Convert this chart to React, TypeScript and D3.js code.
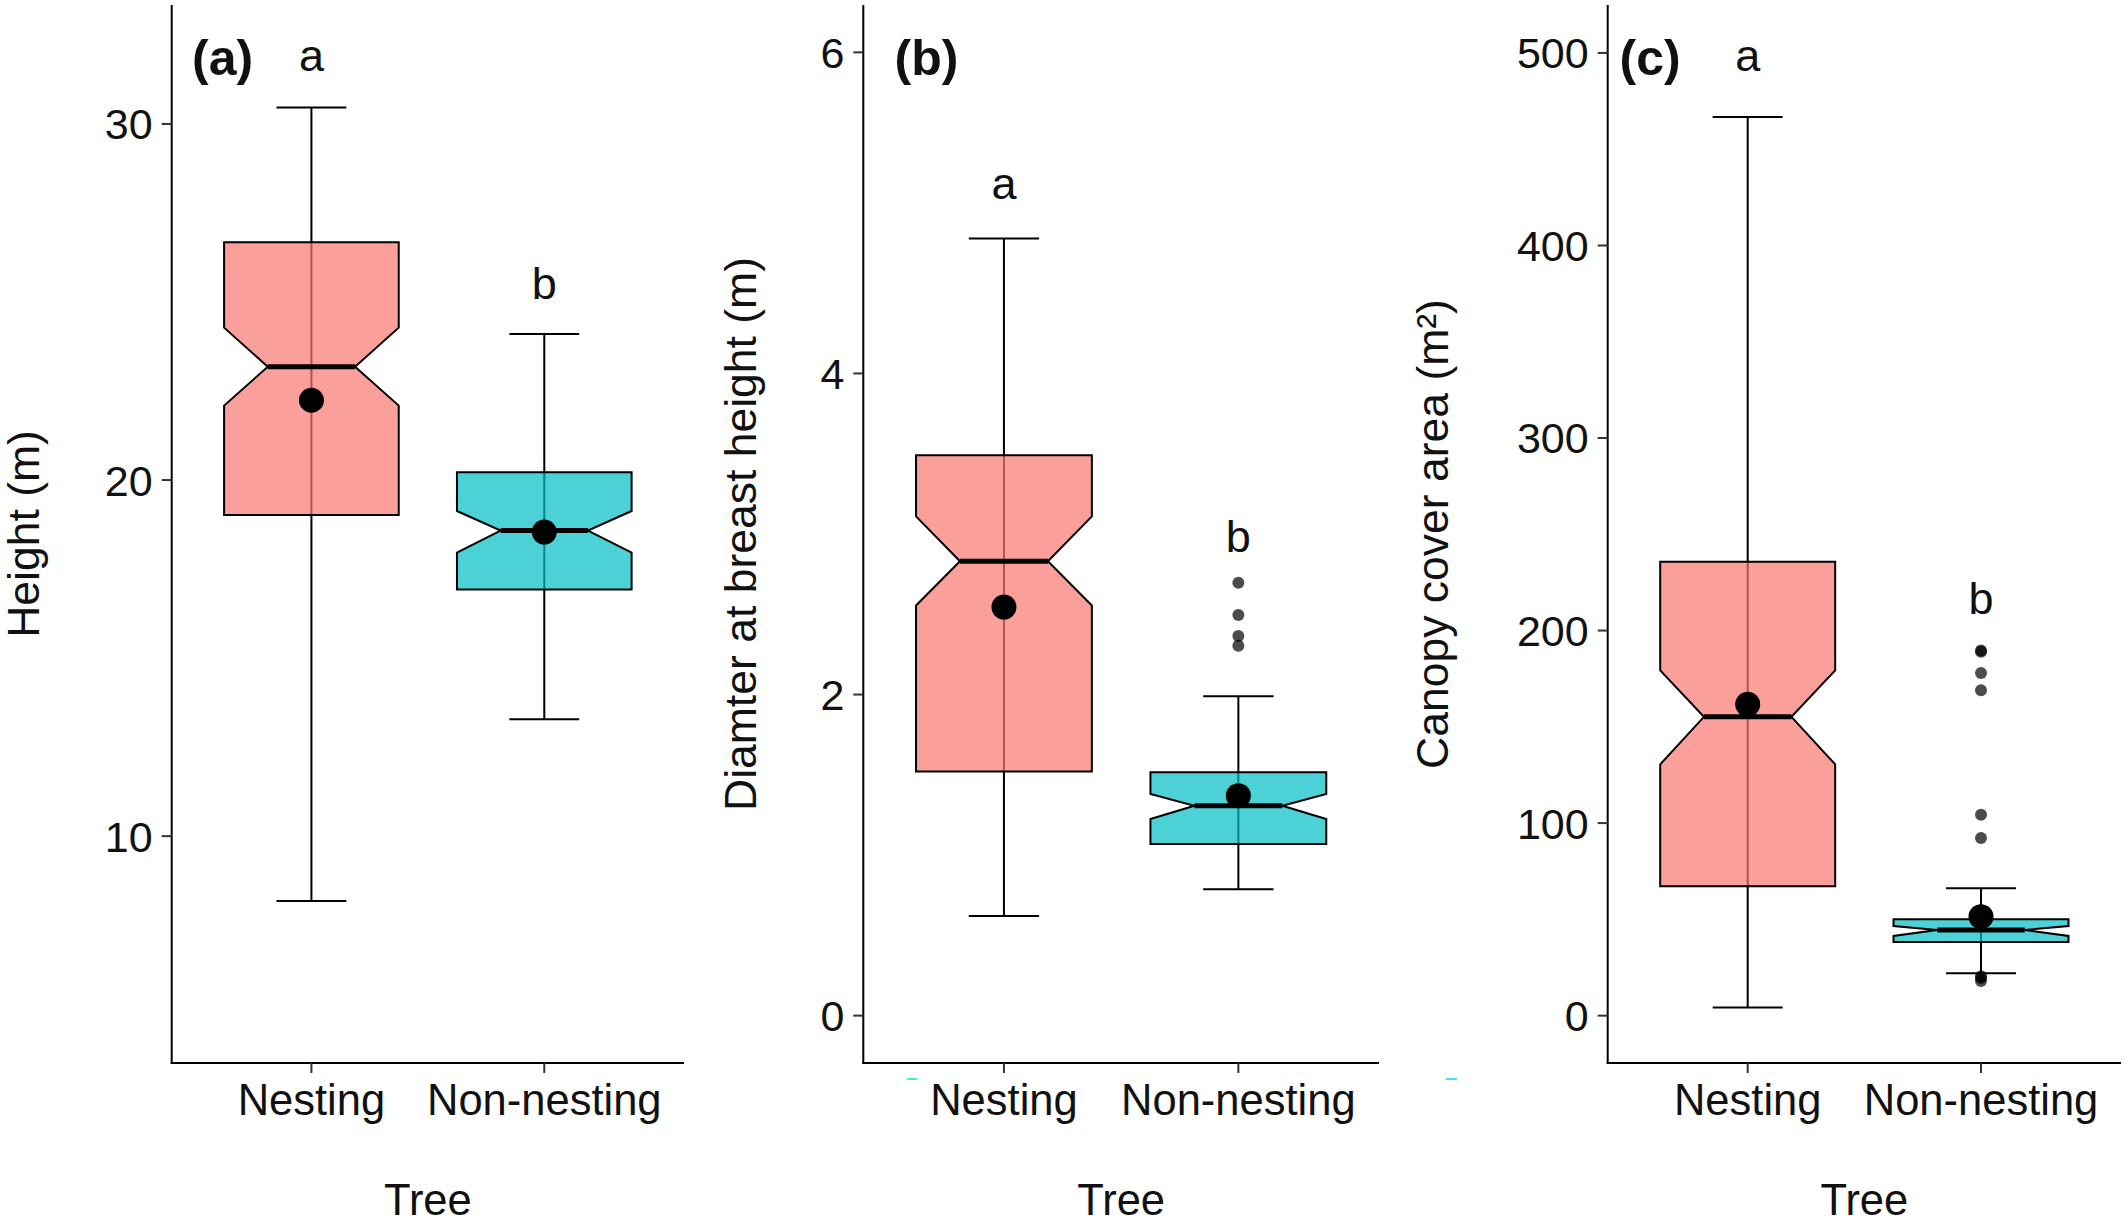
import * as d3 from "d3";

const W = 2128;
const H = 1223;
const FONT = "'Liberation Sans', Arial, Helvetica, sans-serif";

const groups = ["Nesting", "Non-nesting"];
const groupFills = ["#F8766D", "#00BFC4"];

type BoxStat = {
  lo: number; q1: number; notchLo: number; median: number;
  notchHi: number; q3: number; hi: number; mean: number;
  outliers: number[]; letter: string; letterY: number;
};

// (a) tree height, m
const heightStats: BoxStat[] = [
  { lo: 8.18, q1: 19.02, notchLo: 22.09, median: 23.18, notchHi: 24.28, q3: 26.68, hi: 30.46, mean: 22.24, outliers: [], letter: "a", letterY: 32 },
  { lo: 13.28, q1: 16.93, notchLo: 17.96, median: 18.58, notchHi: 19.13, q3: 20.22, hi: 24.1, mean: 18.54, outliers: [], letter: "b", letterY: 25.6 },
];

// (b) diameter at breast height, m
const dbhStats: BoxStat[] = [
  { lo: 0.62, q1: 1.52, notchLo: 2.555, median: 2.83, notchHi: 3.11, q3: 3.49, hi: 4.84, mean: 2.545, outliers: [], letter: "a", letterY: 5.2 },
  { lo: 0.787, q1: 1.069, notchLo: 1.225, median: 1.307, notchHi: 1.38, q3: 1.516, hi: 1.99, mean: 1.37, outliers: [2.696, 2.495, 2.364, 2.304], letter: "b", letterY: 3.0 },
];

// (c) canopy cover area, m²
const canopyStats: BoxStat[] = [
  { lo: 4.2, q1: 67.2, notchLo: 130.5, median: 155.2, notchHi: 179.3, q3: 235.8, hi: 466.7, mean: 161.7, outliers: [], letter: "a", letterY: 500 },
  { lo: 22.0, q1: 38.2, notchLo: 41.4, median: 44.5, notchHi: 46.5, q3: 50.0, hi: 66.1, mean: 51.4, outliers: [189.0, 189.6, 178.0, 169.0, 104.3, 92.2, 18.0, 19.5, 20.5], letter: "b", letterY: 218 },
];

const heightTicks = [10, 20, 30];
const dbhTicks = [0, 2, 4, 6];
const canopyTicks = [0, 100, 200, 300, 400, 500];

type PanelDef = {
  tag: string; tagX: number; title: string; titleX: number;
  left: number; right: number; domain: [number, number];
  ticks: number[]; stats: BoxStat[];
};

const panels: PanelDef[] = [
  { tag: "(a)", tagX: 192, title: "Height (m)", titleX: 39, left: 171.7, right: 684, domain: [3.63, 33.34], ticks: heightTicks, stats: heightStats },
  { tag: "(b)", tagX: 894.5, title: "Diamter at breast height (m)", titleX: 756, left: 863.3, right: 1379, domain: [-0.295, 6.295], ticks: dbhTicks, stats: dbhStats },
  { tag: "(c)", tagX: 1619.5, title: "Canopy cover area (m\u00B2)", titleX: 1448, left: 1607.7, right: 2121, domain: [-24.6, 524.9], ticks: canopyTicks, stats: canopyStats },
];

const TOP = 5;
const BOTTOM = 1063;

function Panel({ p }: { p: PanelDef }) {
  const y = d3.scaleLinear().domain(p.domain).range([BOTTOM, TOP]);
  const x = d3.scalePoint<string>().domain(groups).range([p.left, p.right]).padding(0.6);
  const step = x.step();
  const boxW = 0.75 * step;
  const capW = 0.3 * step;
  const indent = boxW * 0.25;
  const midY = (TOP + BOTTOM) / 2;

  return (
    <g>
      {/* axes */}
      <line x1={p.left} x2={p.left} y1={TOP} y2={BOTTOM + 1} stroke="#000" strokeWidth={2} />
      <line x1={p.left - 1} x2={p.right} y1={BOTTOM} y2={BOTTOM} stroke="#000" strokeWidth={2} />
      {p.ticks.map((t) => (
        <g key={t}>
          <line x1={p.left - 10} x2={p.left} y1={y(t)} y2={y(t)} stroke="#333" strokeWidth={2} />
          <text x={p.left - 19} y={y(t)} dy="0.36em" textAnchor="end" fontSize={43} fill="#111">{t}</text>
        </g>
      ))}
      {groups.map((g) => (
        <g key={g}>
          <line x1={x(g)} x2={x(g)} y1={BOTTOM} y2={BOTTOM + 10} stroke="#333" strokeWidth={2} />
          <text x={x(g)} y={1115} textAnchor="middle" fontSize={43.5} fill="#111">{g}</text>
        </g>
      ))}
      <text x={(p.left + p.right) / 2} y={1215} textAnchor="middle" fontSize={43.5} fill="#111">Tree</text>
      <text transform={`translate(${p.titleX},${midY}) rotate(-90)`} textAnchor="middle" fontSize={44.5} fill="#111">{p.title}</text>
      <text x={p.tagX} y={75} fontSize={50} fontWeight="bold" fill="#111">{p.tag}</text>

      {/* boxes */}
      {p.stats.map((s, i) => {
        const cx = x(groups[i]) as number;
        const x0 = cx - boxW / 2;
        const x1 = cx + boxW / 2;
        const pts: [number, number][] = [
          [x0, y(s.q3)], [x0, y(s.notchHi)], [x0 + indent, y(s.median)], [x0, y(s.notchLo)], [x0, y(s.q1)],
          [x1, y(s.q1)], [x1, y(s.notchLo)], [x1 - indent, y(s.median)], [x1, y(s.notchHi)], [x1, y(s.q3)],
        ];
        const path = d3.line()(pts) + "Z";
        return (
          <g key={i}>
            <line x1={cx} x2={cx} y1={y(s.lo)} y2={y(s.hi)} stroke="#000" strokeWidth={2} />
            <line x1={cx - capW / 2} x2={cx + capW / 2} y1={y(s.lo)} y2={y(s.lo)} stroke="#000" strokeWidth={2} />
            <line x1={cx - capW / 2} x2={cx + capW / 2} y1={y(s.hi)} y2={y(s.hi)} stroke="#000" strokeWidth={2} />
            <path d={path} fill={groupFills[i]} fillOpacity={0.7} stroke="#000" strokeWidth={2} />
            <line x1={x0 + indent} x2={x1 - indent} y1={y(s.median)} y2={y(s.median)} stroke="#000" strokeWidth={5} />
            {s.outliers.map((o, k) => (
              <circle key={k} cx={cx} cy={y(o)} r={6} fill="#000" fillOpacity={0.7} />
            ))}
            <circle cx={cx} cy={y(s.mean)} r={12.5} fill="#000" />
            <text x={cx} y={y(s.letterY)} dy="0.41em" textAnchor="middle" fontSize={45} fill="#111">{s.letter}</text>
          </g>
        );
      })}
    </g>
  );
}

export default function App() {
  return (
    <svg
      width={W}
      height={H}
      viewBox={`0 0 ${W} ${H}`}
      style={{ position: "absolute", left: 0, top: 0, background: "#fff" }}
      fontFamily={FONT}
    >
      <rect width={W} height={H} fill="#fff" />
      {panels.map((p) => (
        <Panel key={p.tag} p={p} />
      ))}
      {/* small cyan marks left over in the source figure */}
      <rect x={907} y={1078} width={10} height={2} fill="#3ee6ee" />
      <rect x={1446} y={1078} width={11} height={2} fill="#3ee6ee" />
    </svg>
  );
}
